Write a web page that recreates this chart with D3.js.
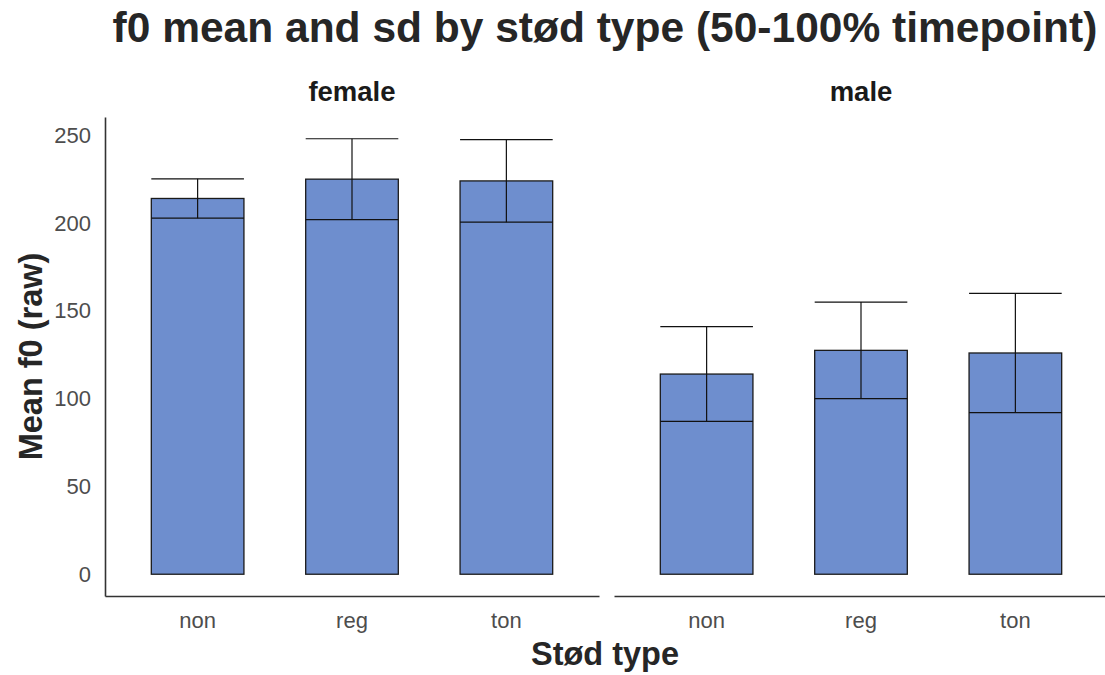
<!DOCTYPE html>
<html>
<head>
<meta charset="utf-8">
<script src="https://cdn.jsdelivr.net/npm/d3@7"></script>
<style>
  body { margin: 0; background: #fff; }
  text { font-family: "Liberation Sans", Arial, sans-serif; }
</style>
</head>
<body>
<div id="chart"></div>
<script>
// data
var genders = ["female", "male"];
var stodTypes = ["non", "reg", "ton"];
var meanF0 = [[214, 225, 224], [114, 127.5, 126]];
var sdF0 = [[11.2, 23, 23.5], [27, 27.5, 34]];
var yTicks = [0, 50, 100, 150, 200, 250];

var width = 1105, height = 675;
var margin = { top: 117, bottom: 79, left: 105 };
var panelW = 494, panelGap = 15;

var svg = d3.select("#chart")
  .append("svg")
  .attr("width", width)
  .attr("height", height);

// title
svg.append("text")
  .attr("x", 605)
  .attr("y", 42)
  .attr("text-anchor", "middle")
  .style("font-size", "42.5px")
  .style("font-weight", "bold")
  .attr("fill", "#262626")
  .text("f0 mean and sd by stød type (50-100% timepoint)");

// y scale shared, ggplot style 5% expansion
var yMax = d3.max(meanF0.map(function (row, i) {
  return d3.max(row.map(function (m, j) { return m + sdF0[i][j]; }));
}));
var pad = yMax * 0.05;
var y = d3.scaleLinear()
  .domain([-pad, yMax + pad])
  .range([height - margin.bottom, margin.top]);

var x = d3.scaleBand()
  .domain(stodTypes)
  .range([0, panelW])
  .paddingInner(0.4)
  .paddingOuter(0.3);

genders.forEach(function (g, gi) {
  var panel = svg.append("g")
    .attr("transform", "translate(" + (margin.left + gi * (panelW + panelGap)) + ",0)");

  // strip label
  panel.append("text")
    .attr("x", panelW / 2)
    .attr("y", 101)
    .attr("text-anchor", "middle")
    .style("font-size", "27.5px")
    .style("font-weight", "bold")
    .attr("fill", "#1a1a1a")
    .text(g);

  var rows = stodTypes.map(function (s, i) {
    return { type: s, mean: meanF0[gi][i], sd: sdF0[gi][i] };
  });

  // bars
  panel.selectAll(".bar")
    .data(rows)
    .enter()
    .append("rect")
    .attr("class", "bar")
    .attr("x", function (d) { return x(d.type); })
    .attr("width", x.bandwidth())
    .attr("y", function (d) { return y(d.mean); })
    .attr("height", function (d) { return y(0) - y(d.mean); })
    .attr("fill", "#6e8ece")
    .attr("stroke", "#1a1a1a")
    .attr("stroke-width", 1.3);

  // error bars
  var err = panel.selectAll(".err")
    .data(rows)
    .enter()
    .append("g")
    .attr("class", "err")
    .attr("stroke", "#111")
    .attr("stroke-width", 1.2);

  err.append("line")
    .attr("x1", function (d) { return x(d.type) + x.bandwidth() / 2; })
    .attr("x2", function (d) { return x(d.type) + x.bandwidth() / 2; })
    .attr("y1", function (d) { return y(d.mean - d.sd); })
    .attr("y2", function (d) { return y(d.mean + d.sd); });
  err.append("line")
    .attr("x1", function (d) { return x(d.type); })
    .attr("x2", function (d) { return x(d.type) + x.bandwidth(); })
    .attr("y1", function (d) { return y(d.mean + d.sd); })
    .attr("y2", function (d) { return y(d.mean + d.sd); });
  err.append("line")
    .attr("x1", function (d) { return x(d.type); })
    .attr("x2", function (d) { return x(d.type) + x.bandwidth(); })
    .attr("y1", function (d) { return y(d.mean - d.sd); })
    .attr("y2", function (d) { return y(d.mean - d.sd); });

  // x axis
  var xAxis = panel.append("g")
    .attr("transform", "translate(0," + (height - margin.bottom) + ")")
    .call(d3.axisBottom(x).tickSize(0).tickPadding(16));
  xAxis.select(".domain").attr("stroke", "#333").attr("stroke-width", 1.6);
  xAxis.selectAll("text")
    .style("font-size", "22px")
    .attr("fill", "#4d4d4d");

  // y axis only on first panel
  if (gi === 0) {
    var yAxis = panel.append("g")
      .call(d3.axisLeft(y).tickValues(yTicks).tickSize(0).tickPadding(14));
    yAxis.select(".domain").attr("stroke", "#333").attr("stroke-width", 1.6);
    yAxis.selectAll("text")
      .style("font-size", "22px")
      .attr("fill", "#4d4d4d");
  }
});

// axis titles
svg.append("text")
  .attr("x", 605)
  .attr("y", 665)
  .attr("text-anchor", "middle")
  .style("font-size", "32.5px")
  .style("font-weight", "bold")
  .attr("fill", "#262626")
  .text("Stød type");

svg.append("text")
  .attr("transform", "translate(42," + ((margin.top + height - margin.bottom) / 2) + ") rotate(-90)")
  .attr("text-anchor", "middle")
  .style("font-size", "32.5px")
  .style("font-weight", "bold")
  .attr("fill", "#262626")
  .text("Mean f0 (raw)");
</script>
</body>
</html>
